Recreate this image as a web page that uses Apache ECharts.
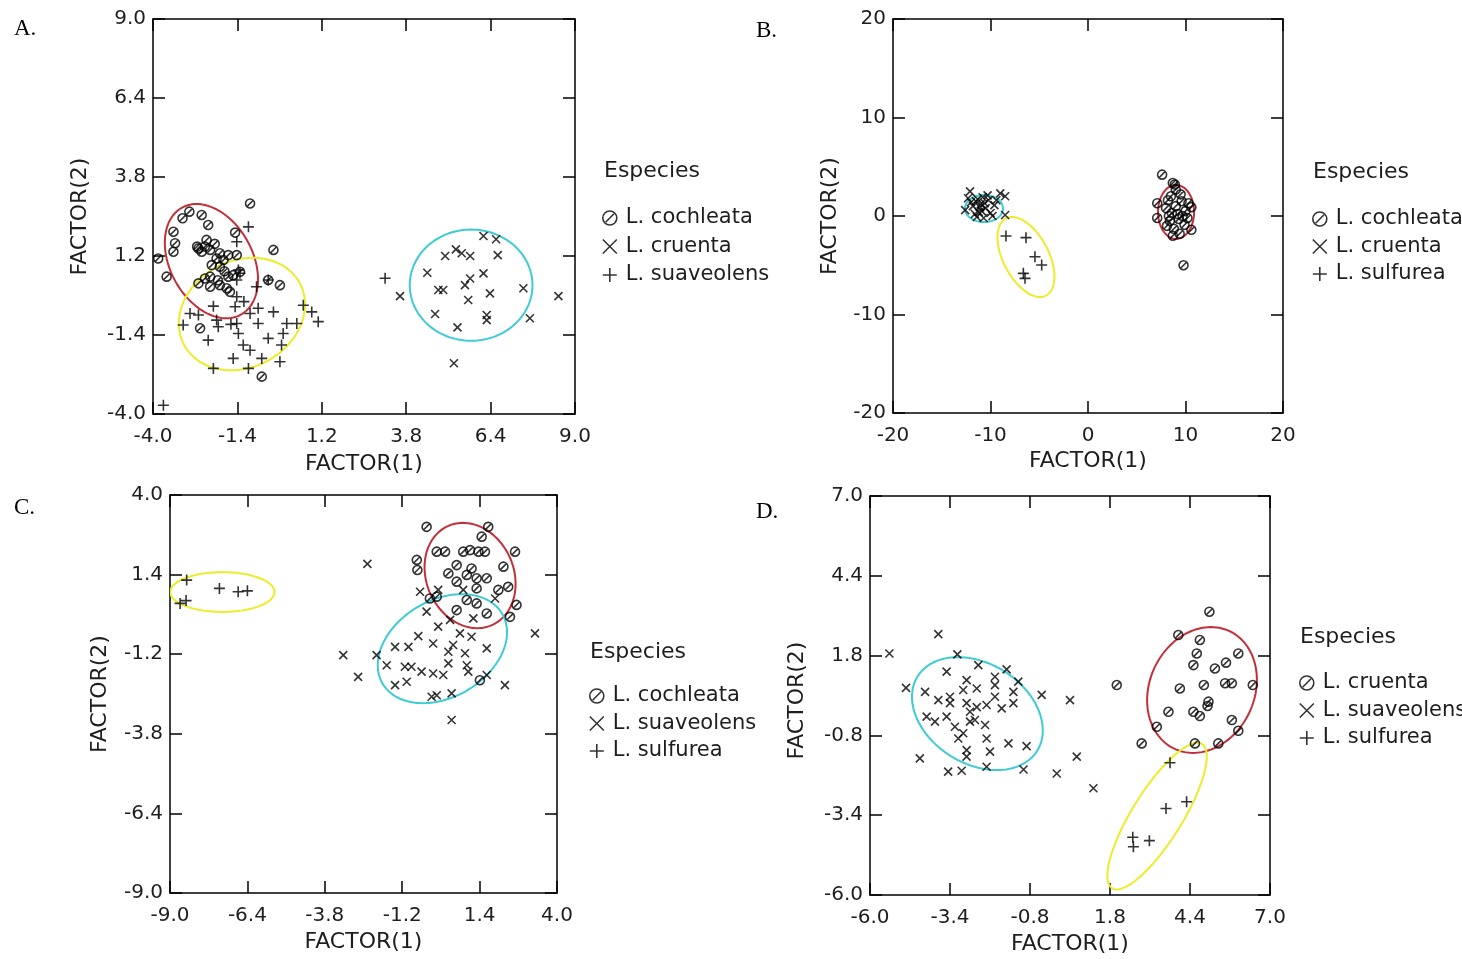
<!DOCTYPE html>
<html><head><meta charset="utf-8">
<script src="https://cdn.jsdelivr.net/npm/echarts@6/dist/echarts.min.js"></script>
<style>html,body{margin:0;padding:0;background:#fff}#c{width:1462px;height:959px}</style>
</head><body><div id="c"></div>
<script>
// ---- tick labels ----
const ticksA = [-4.0, -1.4, 1.2, 3.8, 6.4, 9.0];
const ticksB = [-20, -10, 0, 10, 20];
const ticksC = [-9.0, -6.4, -3.8, -1.2, 1.4, 4.0];
const ticksD = [-6.0, -3.4, -0.8, 1.8, 4.4, 7.0];

// ---- Panel A ----
const aCochleata = [[-1.01,2.93],[-2.88,2.66],[-3.09,2.44],[-2.50,2.55],[-2.30,2.22],[-3.37,2.00],[-1.47,1.97],[-3.32,1.62],[-3.37,1.34],[-2.64,1.51],[-2.35,1.73],[-2.50,1.34],[-2.24,1.40],[-1.94,1.29],[-1.68,1.23],[-1.42,1.23],[-0.29,1.40],[-3.84,1.12],[-2.19,0.90],[-1.94,0.85],[-3.58,0.52],[-2.40,0.46],[-2.24,0.52],[-1.68,0.52],[-1.53,0.57],[-1.32,0.68],[-2.60,0.30],[-2.24,0.19],[-1.94,0.24],[-1.73,0.14],[-1.63,0.02],[-0.09,0.24],[-0.45,0.41],[-2.55,-1.18],[-0.65,-2.77],[-2.40,1.51],[-2.04,1.12],[-1.83,1.07],[-2.60,1.45],[-2.10,1.60],[-1.80,0.70],[-2.00,0.40]];
const aCruenta = [[6.18,1.86],[6.57,1.75],[5.33,1.42],[5.51,1.29],[5.77,1.20],[5.00,1.20],[6.62,1.23],[4.45,0.65],[6.18,0.63],[5.77,0.46],[5.61,0.24],[4.79,0.08],[4.94,0.08],[6.38,-0.03],[7.41,0.14],[3.61,-0.12],[8.49,-0.12],[5.71,-0.25],[4.69,-0.71],[6.28,-0.74],[6.28,-0.91],[7.61,-0.85],[5.38,-1.15],[5.27,-2.33]];
const aSuaveolens = [[-1.06,2.16],[-1.42,1.67],[-1.37,0.74],[-1.32,0.63],[-1.42,0.41],[-1.42,-0.14],[-1.47,-0.47],[-2.14,-0.45],[-2.86,-0.69],[-2.60,-0.74],[-3.07,-1.07],[-2.04,-0.91],[-1.99,-1.13],[-1.42,-1.02],[-1.37,-1.35],[-2.30,-1.57],[-1.01,-0.69],[-0.76,-0.52],[-0.29,-0.64],[-0.76,-1.02],[-0.81,0.19],[-0.45,0.41],[-1.22,-1.73],[-1.01,-1.90],[-1.53,-2.17],[-0.65,-2.17],[-0.09,-2.28],[-0.45,-1.51],[-0.04,-1.73],[0.01,-1.35],[0.12,-1.02],[0.43,-1.02],[0.63,-0.42],[0.89,-0.64],[1.09,-0.96],[-2.14,-2.50],[-1.06,-2.50],[-3.68,-3.71],[3.15,0.47],[-1.60,-1.05],[-1.20,-0.30]];
// ellipse: centre x, centre y, semi-axis vector 1 (x,y), conjugate semi-axis vector 2 (x,y)
const aEllRed    = [-2.20, 1.03, 0.46, -1.88, 1.36, 0];
const aEllYellow = [-1.26, -0.71, -0.12, -1.84, 1.94, 0.20];
const aEllCyan   = [5.80, 0.24, 0, -1.83, 1.89, 0];

// ---- Panel B ----
const bCochleata = [[7.6,4.2],[8.9,3.2],[8.7,3.35],[9.8,-5.0],[7.1,1.3],[7.1,-0.2],[10.6,0.9],[10.6,-1.4],[8.5,2.0],[9.5,2.2],[8.0,0.8],[9.0,1.0],[10.0,0.5],[8.4,-0.5],[9.3,-0.3],[9.9,-0.9],[8.8,-1.3],[9.6,1.5],[8.2,1.6],[9.2,0.2],[10.2,-0.2],[8.6,0.3],[9.4,-1.8],[8.1,-1.0],[10.3,1.3],[9.0,2.7],[8.7,-2.0],[9.7,0.0],[8.3,0.0]];
const bCruenta = [[-12.1,2.5],[-9.0,2.3],[-8.5,2.0],[-8.5,0.1],[-12.6,0.6],[-10.7,-0.2],[-11.5,1.5],[-11.0,1.2],[-10.5,0.8],[-11.2,0.4],[-10.2,1.6],[-11.8,1.0],[-10.8,1.9],[-11.4,-0.1],[-10.0,0.3],[-11.1,0.9],[-10.6,1.3],[-12.0,1.4],[-9.6,1.1],[-9.8,0.0],[-11.6,0.2],[-10.3,2.1],[-12.3,1.8],[-10.9,0.5],[-11.3,1.7],[-9.4,1.6]];
const bSulfurea = [[-8.41,-2.03],[-6.36,-2.20],[-5.44,-4.13],[-4.75,-4.97],[-6.63,-5.82],[-6.46,-6.33]];
const bEllCyan   = [-10.67, 0.76, 0, -1.37, 1.95, 0];
const bEllYellow = [-6.36, -4.16, 1.44, -4.06, 2.54, 0];
const bEllRed    = [9.03, 0.41, 0, -2.74, 1.85, 0];

// ---- Panel C ----
const cCochleata = [[-0.38,2.96],[1.69,2.96],[1.47,2.64],[2.59,2.15],[-0.04,2.15],[0.24,2.15],[0.85,2.15],[1.08,2.20],[1.36,2.15],[1.58,2.15],[-0.71,1.88],[-0.69,1.55],[0.63,1.71],[1.13,1.60],[2.20,1.66],[0.35,1.44],[0.63,1.17],[0.97,1.39],[1.30,1.28],[1.64,1.28],[1.30,0.95],[2.03,0.90],[2.36,1.00],[-0.27,0.62],[-0.04,0.68],[0.63,0.24],[0.97,0.57],[1.30,0.46],[1.64,0.13],[2.64,0.41],[2.42,0.02],[1.41,-2.05]];
const cSuaveolens = [[-2.37,1.75],[-0.60,0.84],[0.01,0.90],[0.85,0.90],[1.92,0.62],[-0.38,0.19],[0.01,-0.30],[0.41,-0.08],[0.74,-0.52],[1.13,-0.63],[1.19,-0.03],[3.26,-0.52],[-0.66,-0.61],[-1.44,-0.96],[-0.99,-0.96],[-2.06,-1.23],[-3.18,-1.23],[-0.16,-0.85],[0.35,-1.12],[0.51,-0.90],[0.91,-1.17],[1.64,-1.01],[-1.72,-1.56],[-1.11,-1.61],[-0.89,-1.61],[-0.55,-1.77],[-0.16,-1.83],[0.18,-1.88],[0.35,-1.50],[0.97,-1.56],[1.02,-1.77],[-2.68,-1.94],[-1.05,-2.10],[-1.44,-2.21],[1.64,-1.88],[2.25,-2.21],[-0.21,-2.59],[-0.04,-2.54],[0.46,-2.48],[0.46,-3.35]];
const cSulfurea = [[-8.44,1.22],[-7.34,0.95],[-6.71,0.84],[-6.40,0.87],[-8.66,0.46],[-8.46,0.55]];
const cEllYellow = [-7.24, 0.83, 0, -0.65, 1.75, 0];
const cEllRed    = [1.08, 1.37, 0.24, -1.72, 1.51, 0];
const cEllCyan   = [0.15, -1.02, -0.655, -1.78, 2.07, 0];

// ---- Panel D ----
const dCruenta = [[5.03,3.23],[4.02,2.47],[4.72,2.31],[5.97,1.87],[4.62,1.87],[4.51,1.49],[5.21,1.38],[5.57,1.57],[2.02,0.84],[4.07,0.73],[4.85,0.84],[5.54,0.90],[5.76,0.90],[6.44,0.84],[5.00,0.30],[4.97,0.16],[3.70,-0.03],[4.51,-0.03],[4.72,-0.17],[5.76,-0.30],[3.32,-0.52],[5.97,-0.65],[2.83,-1.06],[4.56,-1.06],[5.32,-1.06]];
const dSuaveolens = [[-3.78,2.50],[-5.37,1.87],[-3.16,1.84],[-2.48,1.49],[-1.56,1.35],[-3.51,1.28],[-4.83,0.75],[-4.21,0.62],[-3.78,0.35],[-3.40,0.46],[-2.86,1.00],[-2.97,0.68],[-2.53,0.73],[-1.94,1.11],[-1.94,0.84],[-1.18,0.95],[-1.34,0.62],[-0.42,0.52],[0.50,0.35],[-1.94,0.46],[-2.86,0.25],[-3.40,0.25],[-2.53,0.12],[-2.21,0.19],[-1.72,0.08],[-1.34,0.25],[-4.16,-0.19],[-3.89,-0.35],[-3.51,-0.19],[-2.75,-0.03],[-2.75,-0.35],[-2.59,-0.30],[-2.26,-0.46],[-3.24,-0.52],[-2.97,-0.73],[-3.13,-0.90],[-2.21,-0.90],[-1.50,-1.06],[-0.91,-1.15],[-2.86,-1.28],[-2.86,-1.49],[-2.10,-1.33],[-4.38,-1.55],[-3.46,-1.98],[-3.02,-1.95],[-2.21,-1.82],[-1.01,-1.91],[0.07,-2.04],[0.72,-1.49],[1.26,-2.52]];
const dSulfurea = [[3.75,-1.69],[4.29,-2.96],[3.62,-3.18],[2.54,-4.12],[3.08,-4.23],[2.56,-4.43]];
const dEllCyan   = [-2.51, -0.09, 0.63, -1.84, 2.03, 0];
const dEllRed    = [4.79, 0.68, -0.29, -2.05, 1.76, 0];
const dEllYellow = [3.33, -3.43, 1.46, 2.35, 0.69, -0.43];

// ---- styling ----
const FONT = 'DejaVu Sans';
const TXT = '#1e1e1e';
const RED = '#c2303a', YEL = '#ecec2a', CYAN = '#3fcbd4';
const SYM = {
  circ: 'path://M10,5A5,5 0 1 1 0,5A5,5 0 1 1 10,5Z M2,8L8,2',
  cross: 'path://M0,0L10,10M10,0L0,10',
  plus: 'path://M5,0L5,10M0,5L10,5'
};
const SYMSIZE = {circ: 9, cross: 8, plus: 11};

const panels = [
  {grid:{left:153,top:19,width:422,height:395}, xr:[-4,9], yr:[-4,9], xt:ticksA, yt:ticksA, dec:1,
   pts:[['L. cochleata',aCochleata,'circ'],['L. cruenta',aCruenta,'cross'],['L. suaveolens',aSuaveolens,'plus']],
   ell:[[aEllRed,RED],[aEllYellow,YEL],[aEllCyan,CYAN]],
   leg:{left:597,top:202,gap:6.5}, head:{x:604,y:160}, tag:{t:'A.',x:14,y:17}, xg:39, yg:62, yPad:[0,0,0,0]},
  {grid:{left:893,top:19,width:390,height:394}, xr:[-20,20], yr:[-20,20], xt:ticksB, yt:ticksB, dec:0,
   pts:[['L. cochleata',bCochleata,'circ'],['L. cruenta',bCruenta,'cross'],['L. sulfurea',bSulfurea,'plus']],
   ell:[[bEllCyan,CYAN],[bEllYellow,YEL],[bEllRed,RED]],
   leg:{left:1307,top:203,gap:5.5}, head:{x:1313,y:161}, tag:{t:'B.',x:756,y:19}, xg:37, yg:52, yPad:[0,0,0,0]},
  {grid:{left:170,top:495,width:387,height:398}, xr:[-9,4], yr:[-9,4], xt:ticksC, yt:ticksC, dec:1,
   pts:[['L. cochleata',cCochleata,'circ'],['L. suaveolens',cSuaveolens,'cross'],['L. sulfurea',cSulfurea,'plus']],
   ell:[[cEllYellow,YEL],[cEllRed,RED],[cEllCyan,CYAN]],
   leg:{left:584,top:680,gap:5.5}, head:{x:590,y:641}, tag:{t:'C.',x:14,y:496}, xg:38, yg:59, yPad:[0,0,0,0]},
  {grid:{left:870,top:496,width:400,height:399}, xr:[-6,7], yr:[-6,7], xt:ticksD, yt:ticksD, dec:1,
   pts:[['L. cruenta',dCruenta,'circ'],['L. suaveolens',dSuaveolens,'cross'],['L. sulfurea',dSulfurea,'plus']],
   ell:[[dEllCyan,CYAN],[dEllRed,RED],[dEllYellow,YEL]],
   leg:{left:1294,top:667,gap:5.5}, head:{x:1300,y:626}, tag:{t:'D.',x:756,y:500}, xg:38, yg:62, yPad:[0,10,0,0]}
];

function ellipseRender(color) {
  return function (params, api) {
    const cx = api.value(0), cy = api.value(1);
    const ux = api.value(2), uy = api.value(3), vx = api.value(4), vy = api.value(5);
    const pts = [];
    for (let k = 0; k <= 120; k++) {
      const t = k / 120 * Math.PI * 2;
      pts.push(api.coord([cx + ux * Math.cos(t) + vx * Math.sin(t), cy + uy * Math.cos(t) + vy * Math.sin(t)]));
    }
    return {type: 'polyline', shape: {points: pts}, style: {stroke: color, fill: null, lineWidth: 2}};
  };
}

const grid = [], xAxis = [], yAxis = [], series = [], legend = [], graphic = [];
const lineStyle = {color: '#000', width: 1.5};
const markStyle = {color: 'transparent', borderColor: '#000', borderWidth: 1.6};
panels.forEach((p, i) => {
  grid.push(Object.assign({containLabel: false}, p.grid));
  const fmt = v => p.dec ? Number(v).toFixed(1) : String(Math.round(v));
  const lab = {fontFamily: FONT, fontSize: 20, color: TXT};
  xAxis.push({type: 'value', gridIndex: i, min: p.xr[0], max: p.xr[1], position: 'bottom',
    axisLine: {show: true, onZero: false, lineStyle}, splitLine: {show: false},
    axisTick: {show: true, inside: true, length: 12, customValues: p.xt, lineStyle},
    axisLabel: Object.assign({customValues: p.xt, formatter: fmt, margin: 13}, lab),
    name: 'FACTOR(1)', nameLocation: 'middle', nameGap: p.xg,
    nameTextStyle: {fontFamily: FONT, fontSize: 22, color: TXT}});
  xAxis.push({type: 'value', gridIndex: i, min: p.xr[0], max: p.xr[1], position: 'top',
    axisLine: {show: true, onZero: false, lineStyle}, splitLine: {show: false},
    axisTick: {show: true, inside: true, length: 12, customValues: p.xt, lineStyle},
    axisLabel: {show: false}});
  yAxis.push({type: 'value', gridIndex: i, min: p.yr[0], max: p.yr[1], position: 'left',
    axisLine: {show: true, onZero: false, lineStyle}, splitLine: {show: false},
    axisTick: {show: true, inside: true, length: 12, customValues: p.yt, lineStyle},
    axisLabel: Object.assign({customValues: p.yt, formatter: fmt, margin: 7}, lab),
    name: 'FACTOR(2)', nameLocation: 'middle', nameGap: p.yg, nameRotate: 90,
    nameTextStyle: {fontFamily: FONT, fontSize: 22, color: TXT, padding: p.yPad}});
  yAxis.push({type: 'value', gridIndex: i, min: p.yr[0], max: p.yr[1], position: 'right',
    axisLine: {show: true, onZero: false, lineStyle}, splitLine: {show: false},
    axisTick: {show: true, inside: true, length: 12, customValues: p.yt, lineStyle},
    axisLabel: {show: false}});
  p.ell.forEach(([e, col]) => {
    series.push({type: 'custom', xAxisIndex: 2 * i, yAxisIndex: 2 * i, clip: true, silent: true, z: 1,
      renderItem: ellipseRender(col), data: [e]});
  });
  p.pts.forEach(([name, data, s]) => {
    series.push({type: 'scatter', name, xAxisIndex: 2 * i, yAxisIndex: 2 * i, z: 3,
      symbol: SYM[s], symbolSize: SYMSIZE[s], data, itemStyle: markStyle});
  });
  legend.push({orient: 'vertical', left: p.leg.left, top: p.leg.top, itemGap: p.leg.gap,
    itemWidth: 14, itemHeight: 14, selectedMode: false,
    textStyle: {fontFamily: FONT, fontSize: 21, color: TXT, lineHeight: 22, padding: [0, 0, 0, 4]},
    data: p.pts.map(([name, d, s]) => ({name, icon: SYM[s], itemStyle: markStyle}))});
  graphic.push({type: 'text', left: p.head.x, top: p.head.y,
    style: {text: 'Especies', fontFamily: FONT, fontSize: 22, fill: TXT}});
  graphic.push({type: 'text', left: p.tag.x, top: p.tag.y,
    style: {text: p.tag.t, fontFamily: 'Liberation Serif', fontSize: 23, fill: '#000'}});
});

const chart = echarts.init(document.getElementById('c'));
chart.setOption({backgroundColor: '#fff', animation: false, grid, xAxis, yAxis, series, legend, graphic});
</script></body></html>
